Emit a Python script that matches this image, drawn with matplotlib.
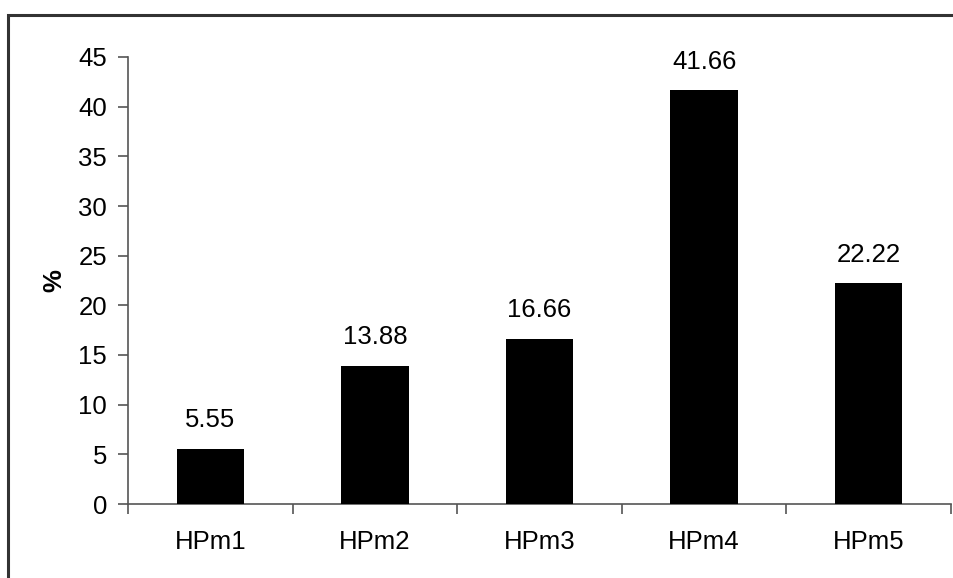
import matplotlib
matplotlib.use("Agg")
import matplotlib.pyplot as plt
from matplotlib.patches import Rectangle
import numpy as np

categories = ["HPm1", "HPm2", "HPm3", "HPm4", "HPm5"]
values = [5.55, 13.88, 16.66, 41.66, 22.22]
value_labels = ["5.55", "13.88", "16.66", "41.66", "22.22"]
yticks = [0, 5, 10, 15, 20, 25, 30, 35, 40, 45]

plt.rcParams['font.family'] = ['Liberation Sans', 'DejaVu Sans']
FS = 18.5

fig = plt.figure(figsize=(9.54, 5.78), dpi=100)
ax = fig.add_axes([128/954, 1-504/578, (951-128)/954, (504-57)/578])

x = np.arange(len(categories))
ax.bar(x, values, width=0.41, color='black', zorder=3)
for xi, v, lab in zip(x, values, value_labels):
    ax.annotate(lab, (xi, v), xytext=(0, 12), textcoords='offset points',
                ha='center', va='bottom', fontsize=FS)

ax.set_xlim(-0.5, len(categories) - 0.5)
ax.set_ylim(0, 45)
ax.set_yticks(yticks)
ax.set_yticklabels([str(t) for t in yticks], fontsize=FS)
ax.set_xticks(np.arange(len(categories) + 1) - 0.5)
ax.set_xticklabels([])
ax.set_xticks(x, minor=True)
ax.set_xticklabels(categories, minor=True, fontsize=FS)
ax.tick_params(axis='x', which='minor', length=0, pad=19)
ax.tick_params(axis='x', which='major', direction='out', length=7, color='#555555', width=1.2)
ax.tick_params(axis='y', direction='out', length=7, color='#555555', width=1.2, pad=8)
for s in ['top', 'right']:
    ax.spines[s].set_visible(False)
for s in ['left', 'bottom']:
    ax.spines[s].set_color('#555555')
    ax.spines[s].set_linewidth(1.2)
ax.set_ylabel('%', fontsize=FS, fontweight='bold', labelpad=9)

fig.patches.append(Rectangle((8/954, -0.05), 1.2, 1 - 15/578 + 0.05,
                             transform=fig.transFigure, fill=False,
                             edgecolor='#333333', linewidth=2.2, zorder=0))

fig.savefig('out.png', dpi=100)
